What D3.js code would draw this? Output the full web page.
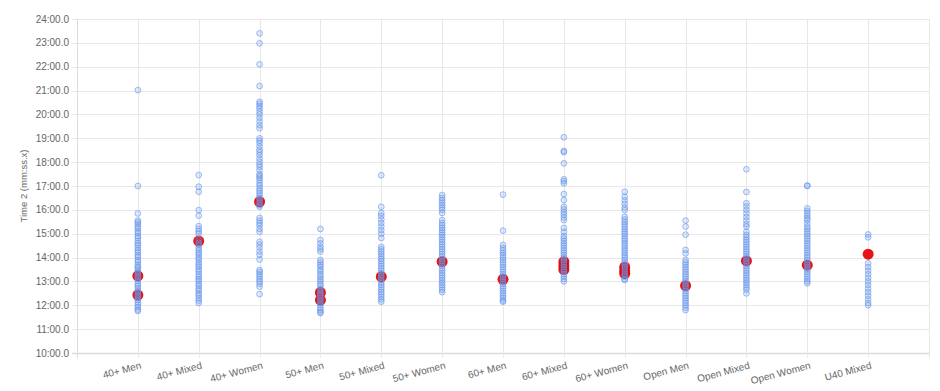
<!DOCTYPE html>
<html>
<head>
<meta charset="utf-8">
<script src="https://cdn.jsdelivr.net/npm/d3@7"></script>
<style>
  html, body { margin: 0; padding: 0; background: #fff; }
  svg { display: block; font-family: "Liberation Sans", Arial, Helvetica, sans-serif; }
</style>
</head>
<body>
<svg id="chart" width="940" height="391"></svg>
<script>
// ---- data (minutes, decimal) ----
const categories = ["40+ Men", "40+ Mixed", "40+ Women", "50+ Men", "50+ Mixed", "50+ Women",
  "60+ Men", "60+ Mixed", "60+ Women", "Open Men", "Open Mixed", "Open Women", "U40 Mixed"];

const yTicks = [10, 11, 12, 13, 14, 15, 16, 17, 18, 19, 20, 21, 22, 23, 24];

const men40 = [21.02, 17.0, 15.85, 15.55, 15.48, 15.4, 15.3, 15.22, 15.1, 15.02, 14.9, 14.82, 14.7, 14.6, 14.52,
  14.4, 14.3, 14.22, 14.1, 14.02, 13.9, 13.82, 13.7, 13.62, 13.55, 13.45, 13.38, 13.3, 13.2, 13.12, 13.02,
  12.9, 12.82, 12.72, 12.62, 12.55, 12.45, 12.38, 12.3, 12.22, 12.12, 12.02, 11.92, 11.82, 11.76];
const mixed40 = [17.46, 16.97, 16.76, 15.99, 15.76, 15.32, 15.2, 15.1, 15.0, 14.75, 14.62, 14.52, 14.4, 14.3,
  14.2, 14.12, 14.0, 13.92, 13.8, 13.7, 13.62, 13.5, 13.42, 13.3, 13.2, 13.1, 13.02, 12.9, 12.82, 12.7,
  12.62, 12.5, 12.42, 12.3, 12.2, 12.1];
const women40 = [23.4, 22.98, 22.1, 21.19, 20.53, 20.45, 20.35, 20.25, 20.12, 20.0, 19.86, 19.7, 19.55, 19.42,
  19.0, 18.9, 18.8, 18.66, 18.52, 18.42, 18.3, 18.15, 18.02, 17.9, 17.8, 17.66, 17.5, 17.42, 17.35, 17.25,
  17.12, 17.02, 16.9, 16.8, 16.7, 16.6, 16.5, 16.42, 16.3, 16.2, 16.13, 15.66, 15.55, 15.45, 15.35, 15.2,
  15.08, 14.66, 14.55, 14.42, 14.25, 14.12, 13.92, 13.48, 13.4, 13.3, 13.2, 13.1, 13.0, 12.9, 12.78, 12.47];
const men50 = [15.2, 14.74, 14.6, 14.45, 14.35, 14.25, 13.9, 13.8, 13.7, 13.62, 13.5, 13.42, 13.3, 13.2, 13.1,
  13.02, 12.9, 12.82, 12.7, 12.6, 12.5, 12.42, 12.3, 12.2, 12.1, 12.02, 11.9, 11.8, 11.72, 11.67];
const mixed50 = [17.45, 16.13, 15.87, 15.75, 15.6, 15.45, 15.3, 15.15, 15.0, 14.82, 14.45, 14.35, 14.25,
  14.15, 14.05, 13.95, 13.85, 13.75, 13.65, 13.55, 13.45, 13.35, 13.25, 13.15, 13.05, 12.95, 12.85, 12.75,
  12.65, 12.55, 12.45, 12.35, 12.25, 12.15];
const women50 = [16.62, 16.5, 16.4, 16.3, 16.2, 16.1, 16.0, 15.87, 15.57, 15.45, 15.35, 15.25, 15.15, 15.05,
  14.95, 14.85, 14.75, 14.65, 14.55, 14.45, 14.35, 14.25, 14.15, 14.05, 13.95, 13.85, 13.75, 13.65, 13.55,
  13.45, 13.35, 13.25, 13.15, 13.05, 12.95, 12.85, 12.75, 12.65, 12.55];
const men60 = [16.64, 15.13, 14.53, 14.4, 14.3, 14.2, 14.1, 14.0, 13.9, 13.8, 13.7, 13.6, 13.5, 13.4, 13.3,
  13.2, 13.1, 13.0, 12.9, 12.8, 12.7, 12.6, 12.5, 12.4, 12.3, 12.2, 12.15];
const mixed60 = [19.04, 18.47, 18.42, 17.95, 17.28, 17.2, 17.11, 16.66, 16.41, 16.13, 16.02, 15.9, 15.8,
  15.68, 15.57, 15.24, 15.08, 14.9, 14.8, 14.7, 14.6, 14.5, 14.4, 14.3, 14.2, 14.1, 14.0, 13.9, 13.8, 13.7,
  13.6, 13.5, 13.4, 13.3, 13.2, 13.1, 13.0];
const women60 = [16.76, 16.55, 16.4, 16.25, 16.1, 15.99, 15.71, 15.6, 15.5, 15.4, 15.3, 15.2, 15.1, 15.0,
  14.9, 14.8, 14.7, 14.6, 14.5, 14.4, 14.3, 14.2, 14.1, 14.0, 13.9, 13.8, 13.7, 13.6, 13.5, 13.4, 13.3,
  13.2, 13.1, 13.06];
const menOpen = [15.55, 15.3, 14.96, 14.32, 14.18, 13.9, 13.8, 13.7, 13.6, 13.5, 13.4, 13.3, 13.2, 13.1,
  13.0, 12.9, 12.8, 12.7, 12.6, 12.5, 12.4, 12.3, 12.2, 12.1, 12.0, 11.9, 11.8];
const mixedOpen = [17.7, 16.75, 16.28, 16.15, 16.0, 15.85, 15.7, 15.55, 15.4, 15.3, 15.08, 14.95, 14.85,
  14.75, 14.65, 14.55, 14.45, 14.35, 14.25, 14.15, 14.05, 13.95, 13.85, 13.75, 13.65, 13.55, 13.45, 13.35,
  13.25, 13.15, 13.05, 12.95, 12.85, 12.75, 12.65, 12.5];
const womenOpen = [17.02, 17.0, 16.06, 15.95, 15.85, 15.75, 15.65, 15.57, 15.43, 15.3, 15.2, 15.1, 15.0,
  14.9, 14.8, 14.7, 14.6, 14.5, 14.4, 14.3, 14.2, 14.1, 14.0, 13.9, 13.8, 13.7, 13.6, 13.5, 13.4, 13.3,
  13.2, 13.1, 13.0, 12.92];
const mixedU40 = [14.97, 14.85, 13.76, 13.6, 13.45, 13.3, 13.15, 13.0, 12.85, 12.7, 12.55, 12.4, 12.25,
  12.1, 12.0];

const seriesValues = [men40, mixed40, women40, men50, mixed50, women50, men60, mixed60, women60,
  menOpen, mixedOpen, womenOpen, mixedU40];

// highlighted (red) points
const redCats = ["40+ Men", "40+ Men", "40+ Mixed", "40+ Women", "50+ Men", "50+ Men", "50+ Mixed",
  "50+ Women", "60+ Men", "60+ Mixed", "60+ Mixed", "60+ Mixed", "60+ Women", "60+ Women", "60+ Women",
  "Open Men", "Open Mixed", "Open Women", "U40 Mixed"];
const redValues = [13.23, 12.43, 14.69, 16.34, 12.54, 12.22, 13.2, 13.83, 13.09, 13.83, 13.66, 13.5,
  13.6, 13.45, 13.33, 12.82, 13.86, 13.68, 14.14];

// ---- layout ----
const svg = d3.select("#chart");
const pLeft = 77, pRight = 929, pTop = 19, pBottom = 353;

const x = d3.scaleLinear().domain([0, categories.length + 1]).range([pLeft, pRight]);
const y = d3.scaleLinear().domain([10, 24]).range([pBottom, pTop]);

const fmt = v => {
  const m = Math.floor(v);
  const s = (v - m) * 60;
  return m + ":" + (s < 10 ? "0" : "") + s.toFixed(1);
};

// horizontal grid
svg.append("g").selectAll("line").data(yTicks).join("line")
  .attr("x1", pLeft - 5).attr("x2", pRight)
  .attr("y1", d => Math.round(y(d)) + 0.5).attr("y2", d => Math.round(y(d)) + 0.5)
  .attr("stroke", d => d === 10 ? "#dcdcdc" : "#e8e8e8")
  .attr("stroke-width", d => d === 10 ? 1.5 : 1);

// vertical grid
const xIdx = d3.range(0, categories.length + 2);
svg.append("g").selectAll("line").data(xIdx).join("line")
  .attr("x1", d => Math.round(x(d)) + 0.5).attr("x2", d => Math.round(x(d)) + 0.5)
  .attr("y1", pTop).attr("y2", pBottom + 5)
  .attr("stroke", d => d === 0 ? "#dcdcdc" : "#e8e8e8");

// y tick labels
svg.append("g").selectAll("text").data(yTicks).join("text")
  .attr("x", pLeft - 8).attr("y", d => y(d))
  .attr("dy", "0.35em")
  .attr("text-anchor", "end")
  .attr("font-size", 10)
  .attr("fill", "#666")
  .text(fmt);

// y title
svg.append("text")
  .attr("transform", `translate(27, ${(pTop + pBottom) / 2}) rotate(-90)`)
  .attr("text-anchor", "middle")
  .attr("font-size", 9.5)
  .attr("fill", "#666")
  .text("Time 2 (mm:ss.x)");

// x labels
svg.append("g").selectAll("text").data(categories).join("text")
  .attr("transform", (d, i) => `translate(${x(i + 1) + 3}, 365) rotate(-15)`)
  .attr("text-anchor", "end")
  .attr("dy", "0.35em")
  .attr("font-size", 10)
  .attr("fill", "#666")
  .text(d => d);

// red points (beneath)
const catIndex = new Map(categories.map((c, i) => [c, i + 1]));
svg.append("g").selectAll("circle").data(redValues).join("circle")
  .attr("cx", (d, i) => x(catIndex.get(redCats[i])))
  .attr("cy", d => y(d))
  .attr("r", 5.5)
  .attr("fill", "rgba(228,0,0,0.92)");

// blue points
const pts = seriesValues.flatMap((vals, i) => vals.map(v => ({ c: i + 1, v })));
svg.append("g").selectAll("circle").data(pts).join("circle")
  .attr("cx", d => x(d.c))
  .attr("cy", d => y(d.v))
  .attr("r", 2.9)
  .attr("fill", "rgba(100,149,237,0.2)")
  .attr("stroke", "rgba(100,149,237,0.6)")
  .attr("stroke-width", 1);
</script>
</body>
</html>
